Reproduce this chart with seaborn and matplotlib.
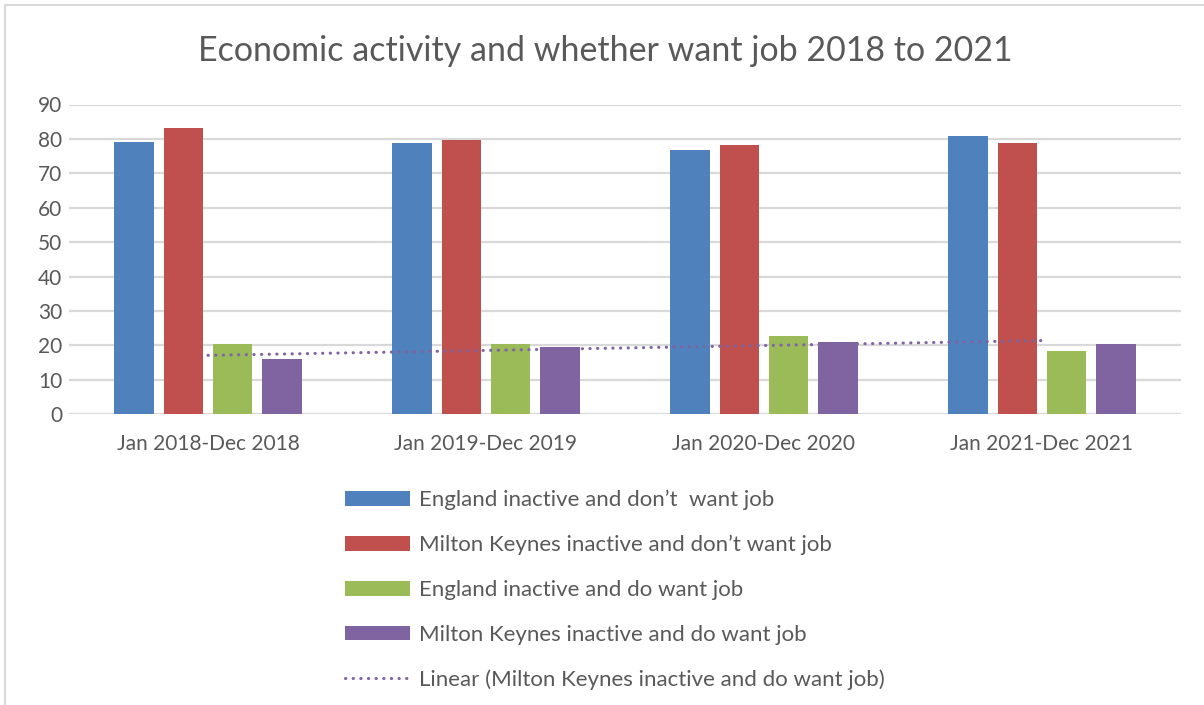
import numpy as np
import pandas as pd
import matplotlib
matplotlib.use("Agg")
import matplotlib.pyplot as plt
from matplotlib.patches import Patch, Rectangle
from matplotlib.lines import Line2D
import seaborn as sns

# ---- data -------------------------------------------------------------
periods = ["Jan 2018-Dec 2018", "Jan 2019-Dec 2019",
           "Jan 2020-Dec 2020", "Jan 2021-Dec 2021"]
series_names = ["England inactive and don\u2019t  want job",
                "Milton Keynes inactive and don\u2019t want job",
                "England inactive and do want job",
                "Milton Keynes inactive and do want job"]
england_dont_want = [79.0, 78.7, 76.8, 80.9]
mk_dont_want = [83.1, 79.8, 78.3, 78.7]
england_do_want = [20.5, 20.5, 22.8, 18.3]
mk_do_want = [16.2, 19.5, 20.9, 20.5]
trend_label = "Linear (Milton Keynes inactive and do want job)"
y_ticks = [0, 10, 20, 30, 40, 50, 60, 70, 80, 90]
title = "Economic activity and whether want job 2018 to 2021"

colors = ["#4F81BD", "#C0504D", "#9BBB59", "#8064A2"]
TEXT = "#595959"
GRID = "#D9D9D9"

values = [england_dont_want, mk_dont_want, england_do_want, mk_do_want]
df = pd.DataFrame(
    [(p, s, v) for s, vals in zip(series_names, values) for p, v in zip(periods, vals)],
    columns=["period", "series", "value"],
)

# ---- figure -----------------------------------------------------------
sns.set_theme(style="white")
plt.rcParams["font.family"] = ["Lato", "DejaVu Sans"]

W, H = 1204, 705
fig = plt.figure(figsize=(W / 100, H / 100), dpi=100)
fig.patch.set_facecolor("white")

def fx(px):
    return px / W

def fy(py):
    return 1 - py / H

ax_left, ax_right, ax_top, ax_bottom = 69, 1181, 104.5, 414.3
ax = fig.add_axes([fx(ax_left), fy(ax_bottom), fx(ax_right - ax_left), (ax_bottom - ax_top) / H])

sns.barplot(data=df, x="period", y="value", hue="series",
            order=periods, hue_order=series_names, palette=colors,
            width=0.71, gap=0.2, saturation=1, errorbar=None,
            linewidth=0, legend=False, ax=ax)

# linear trend through the Milton Keynes "do want job" series
xpos = np.arange(len(periods))
slope, intercept = np.polyfit(xpos, mk_do_want, 1)
trend_style = dict(color="#8064A2", lw=2.2, linestyle=(0, (0.1, 2.4)),
                   dash_capstyle="round")
ax.plot([xpos[0], xpos[-1]], [intercept + slope * xpos[0], intercept + slope * xpos[-1]],
        zorder=4, **trend_style)

ax.set_xlim(-0.5, len(periods) - 0.5)
ax.set_ylim(0, 90)
ax.set_yticks(y_ticks)
ax.set_xlabel("")
ax.set_ylabel("")
ax.yaxis.grid(True, color=GRID, lw=1.6)
ax.xaxis.grid(False)
ax.set_axisbelow(True)
for sp in ax.spines.values():
    sp.set_visible(False)
ax.tick_params(axis="both", length=0, labelsize=15, colors=TEXT)
ax.tick_params(axis="y", pad=5)
ax.tick_params(axis="x", pad=14)

fig.text(0.503, fy(51), title, ha="center", va="center", fontsize=24.5, color=TEXT)

handles = [Patch(facecolor=c, edgecolor="none") for c in colors]
handles.append(Line2D([0], [0], **trend_style))
fig.legend(handles, series_names + [trend_label],
           loc="upper left", bbox_to_anchor=(fx(345), fy(490)),
           frameon=False, fontsize=16, labelcolor=TEXT,
           handlelength=2.93, handleheight=0.63, handletextpad=0.42,
           labelspacing=1.11, borderpad=0, borderaxespad=0)

# outer chart frame
fig.patches.append(Rectangle((fx(5), -0.2), 1.5, fy(5) + 0.2, transform=fig.transFigure,
                             fill=False, edgecolor=GRID, lw=1.5))

fig.savefig("out.png", dpi=100, facecolor="white")
